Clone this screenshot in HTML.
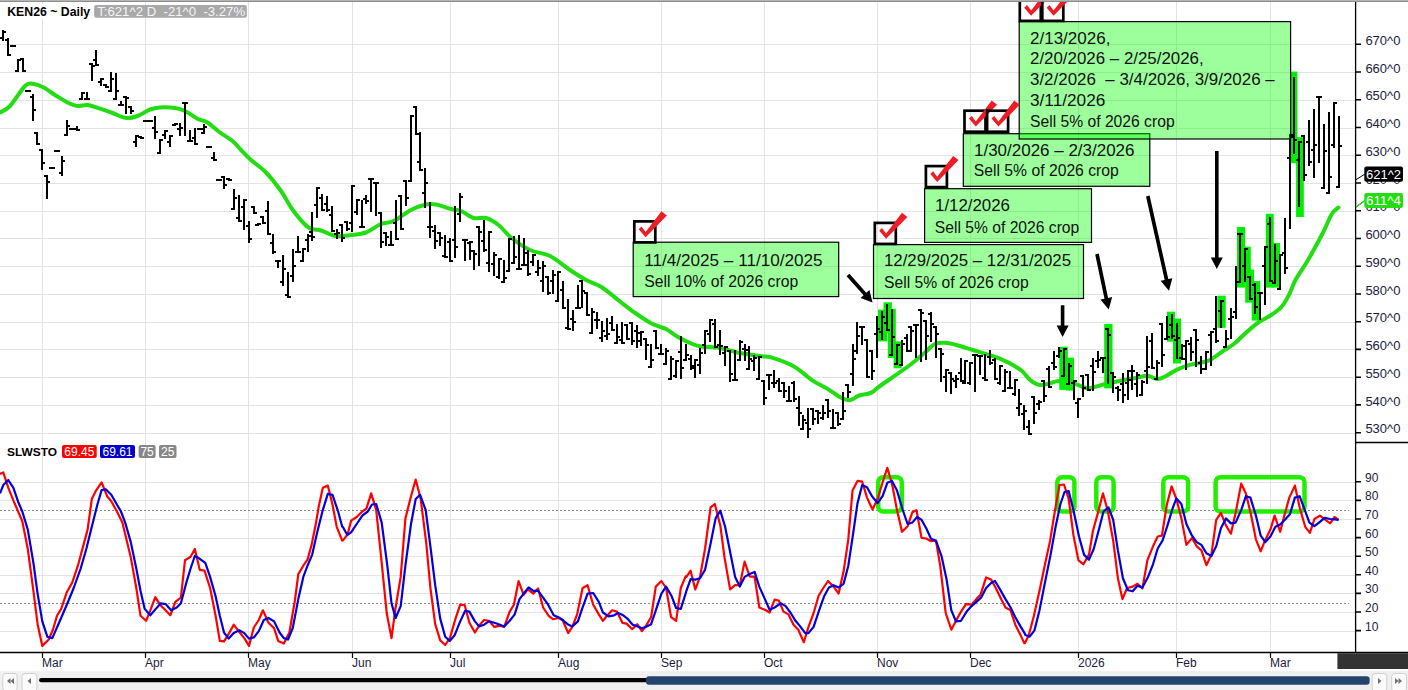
<!DOCTYPE html>
<html><head><meta charset="utf-8"><style>html,body{margin:0;padding:0;background:#fff;width:1408px;height:690px;overflow:hidden}</style></head><body><svg width="1408" height="690" viewBox="0 0 1408 690" style="display:block">
<rect x="0" y="0" width="1408" height="690" fill="#fff"/>
<path d="M0 433.5H1355.5 M0 405.5H1355.5 M0 377.5H1355.5 M0 349.5H1355.5 M0 322.5H1355.5 M0 294.5H1355.5 M0 266.5H1355.5 M0 238.5H1355.5 M0 211.5H1355.5 M0 183.5H1355.5 M0 155.5H1355.5 M0 128.5H1355.5 M0 100.5H1355.5 M0 72.5H1355.5 M0 44.5H1355.5 M0 631.5H1355.5 M0 612.5H1355.5 M0 593.5H1355.5 M0 575.5H1355.5 M0 556.5H1355.5 M0 538.5H1355.5 M0 519.5H1355.5 M0 500.5H1355.5 M0 482.5H1355.5 M42.5 2V652 M145.5 2V652 M248.5 2V652 M352.5 2V652 M450.5 2V652 M558.5 2V652 M661.5 2V652 M764.5 2V652 M877.5 2V652 M970.5 2V652 M1078.5 2V652 M1176.5 2V652 M1270.5 2V652" stroke="#e3e3e3" stroke-width="1" fill="none"/>
<path d="M0 510.5H1349" stroke="#8a8a8a" stroke-width="1" stroke-dasharray="2,2" fill="none"/>
<path d="M0 603.5H1349" stroke="#8a8a8a" stroke-width="1" stroke-dasharray="2,2" fill="none"/>
<path fill="none" stroke="#22dd11" stroke-width="4" stroke-linejoin="round" stroke-linecap="round" d="M0.0 112.5C1.7 111.4 5.8 110.4 10.0 106.0C14.2 101.6 21.2 89.7 25.0 86.0C28.8 82.3 29.4 83.5 32.5 83.7C35.6 84.0 40.0 85.6 43.7 87.5C47.5 89.4 51.0 92.5 55.0 95.0C59.0 97.5 63.8 100.7 67.5 102.5C71.2 104.3 74.2 105.6 77.5 106.0C80.8 106.4 83.8 104.5 87.5 105.0C91.2 105.5 95.8 107.4 100.0 108.7C104.2 110.0 108.2 111.5 112.5 113.0C116.8 114.5 121.8 117.5 126.0 118.0C130.2 118.5 133.5 117.4 137.5 116.0C141.5 114.6 146.2 110.9 150.0 109.5C153.8 108.1 155.8 107.8 160.0 107.5C164.2 107.2 170.8 107.4 175.0 108.0C179.2 108.6 181.2 109.2 185.0 111.0C188.8 112.8 193.8 116.8 197.5 118.7C201.2 120.6 203.8 120.2 207.5 122.5C211.2 124.8 215.8 129.4 220.0 132.5C224.2 135.6 229.0 138.1 232.5 141.0C236.0 143.9 237.9 146.8 241.0 150.0C244.1 153.2 246.8 156.2 251.0 160.0C255.2 163.8 261.0 167.3 266.0 172.5C271.0 177.7 276.4 184.6 281.0 191.0C285.6 197.4 288.9 204.9 293.5 211.0C298.1 217.1 303.9 224.2 308.5 227.5C313.1 230.8 316.4 229.1 321.0 230.5C325.6 231.9 331.0 235.2 336.0 236.0C341.0 236.8 346.0 235.6 351.0 235.0C356.0 234.4 361.0 234.3 366.0 232.5C371.0 230.7 376.4 225.9 381.0 224.0C385.6 222.1 388.5 223.3 393.5 221.0C398.5 218.7 405.6 212.8 411.0 210.0C416.4 207.2 421.8 205.4 426.0 204.5C430.2 203.6 431.8 203.8 436.0 204.5C440.2 205.2 446.8 207.9 451.0 209.0C455.2 210.1 457.2 209.5 461.0 211.0C464.8 212.5 469.3 216.8 473.5 218.0C477.7 219.2 481.8 216.8 486.0 218.0C490.2 219.2 494.3 221.8 498.5 225.0C502.7 228.2 505.8 233.3 511.0 237.5C516.2 241.7 523.5 246.9 530.0 250.0C536.5 253.1 543.3 252.7 550.0 256.0C556.7 259.3 564.0 266.0 570.0 270.0C576.0 274.0 580.8 277.2 586.0 280.0C591.2 282.8 595.7 283.4 601.4 287.0C607.1 290.6 614.4 297.2 620.0 301.5C625.6 305.8 629.9 309.3 635.2 313.0C640.5 316.7 646.9 321.1 652.0 323.8C657.1 326.5 661.7 326.8 666.0 329.0C670.3 331.2 673.4 334.4 678.0 337.0C682.6 339.6 689.5 342.9 693.6 344.5C697.7 346.1 698.8 346.3 702.8 346.8C706.8 347.3 711.7 346.6 717.5 347.5C723.3 348.4 730.4 351.1 737.5 352.5C744.6 353.9 754.0 355.1 760.0 356.0C766.0 356.9 767.9 356.4 773.6 358.1C779.3 359.9 787.5 362.8 794.0 366.5C800.5 370.2 807.2 376.9 812.7 380.6C818.2 384.3 822.4 385.7 827.2 388.6C832.0 391.5 837.8 396.1 841.7 398.0C845.6 399.9 847.5 400.5 850.4 400.1C853.3 399.7 855.6 396.7 859.0 395.5C862.4 394.3 867.2 394.5 870.7 392.9C874.2 391.3 873.5 390.6 880.0 386.0C886.5 381.4 902.5 370.6 910.0 365.0C917.5 359.4 920.8 356.0 925.0 352.5C929.2 349.0 931.2 345.6 935.0 344.0C938.8 342.4 943.3 342.7 947.5 343.0C951.7 343.3 955.8 344.8 960.0 346.0C964.2 347.2 966.1 347.9 972.8 350.0C979.4 352.1 991.9 355.4 999.9 358.7C1007.9 362.0 1015.5 366.3 1020.6 369.9C1025.7 373.5 1027.0 377.7 1030.2 380.2C1033.4 382.7 1036.5 384.5 1039.7 385.0C1042.9 385.5 1046.1 384.1 1049.3 383.4C1052.5 382.7 1055.2 381.1 1058.9 381.0C1062.6 380.9 1066.8 381.4 1071.6 382.6C1076.4 383.8 1082.9 387.7 1087.6 388.2C1092.3 388.7 1096.7 386.3 1100.0 385.5C1103.3 384.7 1103.3 384.4 1107.4 383.5C1111.5 382.6 1119.6 381.0 1124.8 380.0C1130.0 379.0 1134.9 378.1 1138.7 377.4C1142.5 376.7 1144.2 375.4 1147.4 375.7C1150.6 376.0 1154.6 379.0 1157.8 379.0C1161.0 379.0 1163.3 377.3 1166.5 375.7C1169.7 374.1 1173.2 371.4 1177.0 369.6C1180.8 367.9 1185.0 366.4 1189.0 365.2C1193.0 364.0 1197.8 363.5 1201.3 362.6C1204.8 361.7 1206.2 362.0 1210.0 360.0C1213.8 358.0 1219.9 353.1 1224.0 350.4C1228.1 347.6 1230.7 346.5 1234.4 343.5C1238.2 340.5 1242.5 335.7 1246.5 332.2C1250.5 328.7 1254.5 325.2 1258.3 322.5C1262.1 319.8 1265.8 318.5 1269.6 316.0C1273.4 313.5 1277.9 310.7 1281.0 307.4C1284.1 304.1 1285.9 300.7 1288.4 296.0C1290.9 291.3 1292.8 284.8 1296.0 279.0C1299.2 273.2 1302.9 268.7 1307.3 261.2C1311.7 253.7 1318.2 241.9 1322.3 234.0C1326.4 226.1 1329.1 218.4 1331.8 214.0C1334.5 209.6 1337.3 208.6 1338.4 207.5"/>
<rect x="878.0" y="309.6" width="9.1" height="31.8" fill="#00ee00"/>
<rect x="883.5" y="302.3" width="8.4" height="30.7" fill="#00ee00"/>
<rect x="887.8" y="308.8" width="8.0" height="49.3" fill="#00ee00"/>
<rect x="893.6" y="341.4" width="8.0" height="26.9" fill="#00ee00"/>
<rect x="1059.3" y="346.7" width="8.5" height="43.2" fill="#00ee00"/>
<rect x="1066.0" y="357.7" width="8.0" height="32.9" fill="#00ee00"/>
<rect x="1104.2" y="323.9" width="8.3" height="64.5" fill="#00ee00"/>
<rect x="1167.0" y="311.7" width="8.0" height="30.0" fill="#00ee00"/>
<rect x="1173.0" y="318.6" width="8.0" height="44.9" fill="#00ee00"/>
<rect x="1217.4" y="295.7" width="8.3" height="32.1" fill="#00ee00"/>
<rect x="1237.0" y="227.0" width="8.0" height="60.6" fill="#00ee00"/>
<rect x="1243.6" y="246.7" width="7.2" height="36.3" fill="#00ee00"/>
<rect x="1245.2" y="269.7" width="8.8" height="33.0" fill="#00ee00"/>
<rect x="1251.7" y="281.0" width="8.5" height="39.6" fill="#00ee00"/>
<rect x="1265.8" y="213.8" width="7.9" height="73.8" fill="#00ee00"/>
<rect x="1272.4" y="243.0" width="7.6" height="44.6" fill="#00ee00"/>
<rect x="1290.4" y="71.6" width="7.0" height="91.6" fill="#00ee00"/>
<rect x="1296.1" y="137.2" width="7.7" height="79.8" fill="#00ee00"/>
<path d="M2 30h2v11h-2zM0 37h2v2h-2zM4 31h2v2h-2zM7 38h2v18h-2zM5 39h2v2h-2zM9 54h2v2h-2zM12 45h2v2h-2zM10 45h2v2h-2zM14 45h2v2h-2zM17 59h2v13h-2zM15 70h2v2h-2zM19 59h2v2h-2zM22 58h2v14h-2zM20 58h2v2h-2zM24 70h2v2h-2zM27 90h2v2h-2zM25 90h2v2h-2zM29 90h2v2h-2zM32 94h2v27h-2zM30 96h2v2h-2zM34 109h2v2h-2zM36 132h2v13h-2zM34 132h2v2h-2zM38 143h2v2h-2zM41 149h2v21h-2zM39 149h2v2h-2zM43 162h2v2h-2zM46 175h2v24h-2zM44 175h2v2h-2zM48 181h2v2h-2zM51 167h2v2h-2zM49 167h2v2h-2zM53 167h2v2h-2zM56 150h2v2h-2zM54 150h2v2h-2zM58 150h2v2h-2zM61 156h2v20h-2zM59 172h2v2h-2zM63 160h2v2h-2zM66 120h2v16h-2zM64 134h2v2h-2zM68 125h2v2h-2zM71 128h2v2h-2zM69 128h2v2h-2zM73 128h2v2h-2zM76 126h2v5h-2zM74 128h2v2h-2zM78 129h2v2h-2zM81 92h2v8h-2zM79 98h2v2h-2zM83 92h2v2h-2zM86 92h2v8h-2zM84 98h2v2h-2zM88 98h2v2h-2zM91 63h2v18h-2zM89 63h2v2h-2zM93 65h2v2h-2zM95 50h2v16h-2zM93 59h2v2h-2zM97 64h2v2h-2zM100 78h2v8h-2zM98 81h2v2h-2zM102 78h2v2h-2zM105 84h2v4h-2zM103 84h2v2h-2zM107 86h2v2h-2zM110 72h2v20h-2zM108 90h2v2h-2zM112 78h2v2h-2zM115 73h2v27h-2zM113 98h2v2h-2zM117 90h2v2h-2zM120 101h2v5h-2zM118 104h2v2h-2zM122 104h2v2h-2zM125 96h2v18h-2zM123 96h2v2h-2zM127 97h2v2h-2zM130 106h2v8h-2zM128 106h2v2h-2zM132 110h2v2h-2zM135 135h2v12h-2zM133 141h2v2h-2zM137 135h2v2h-2zM140 136h2v3h-2zM138 136h2v2h-2zM142 137h2v2h-2zM145 120h2v2h-2zM143 120h2v2h-2zM147 120h2v2h-2zM149 120h2v2h-2zM147 120h2v2h-2zM151 120h2v2h-2zM154 116h2v23h-2zM152 127h2v2h-2zM156 131h2v2h-2zM159 139h2v15h-2zM157 152h2v2h-2zM161 139h2v2h-2zM164 130h2v9h-2zM162 134h2v2h-2zM166 130h2v2h-2zM169 135h2v12h-2zM167 141h2v2h-2zM171 135h2v2h-2zM174 123h2v3h-2zM172 124h2v2h-2zM176 123h2v2h-2zM179 123h2v13h-2zM177 128h2v2h-2zM181 127h2v2h-2zM184 102h2v34h-2zM182 102h2v2h-2zM186 102h2v2h-2zM189 130h2v12h-2zM187 140h2v2h-2zM191 140h2v2h-2zM194 128h2v17h-2zM192 137h2v2h-2zM196 143h2v2h-2zM199 128h2v2h-2zM197 128h2v2h-2zM201 128h2v2h-2zM203 124h2v10h-2zM201 132h2v2h-2zM205 126h2v2h-2zM208 146h2v2h-2zM206 146h2v2h-2zM210 146h2v2h-2zM213 152h2v9h-2zM211 157h2v2h-2zM215 159h2v2h-2zM218 179h2v2h-2zM216 179h2v2h-2zM220 179h2v2h-2zM223 176h2v13h-2zM221 176h2v2h-2zM225 184h2v2h-2zM228 178h2v3h-2zM226 178h2v2h-2zM230 179h2v2h-2zM233 189h2v21h-2zM231 208h2v2h-2zM235 197h2v2h-2zM238 195h2v27h-2zM236 217h2v2h-2zM240 220h2v2h-2zM243 199h2v31h-2zM241 206h2v2h-2zM245 199h2v2h-2zM248 221h2v22h-2zM246 225h2v2h-2zM250 238h2v2h-2zM253 206h2v8h-2zM251 206h2v2h-2zM255 212h2v2h-2zM257 223h2v3h-2zM255 224h2v2h-2zM259 223h2v2h-2zM262 216h2v8h-2zM260 216h2v2h-2zM264 222h2v2h-2zM267 201h2v34h-2zM265 210h2v2h-2zM269 233h2v2h-2zM272 234h2v20h-2zM270 242h2v2h-2zM274 251h2v2h-2zM277 260h2v8h-2zM275 260h2v2h-2zM279 260h2v2h-2zM282 255h2v31h-2zM280 281h2v2h-2zM284 268h2v2h-2zM287 272h2v26h-2zM285 294h2v2h-2zM289 296h2v2h-2zM292 249h2v33h-2zM290 275h2v2h-2zM294 265h2v2h-2zM297 236h2v17h-2zM295 251h2v2h-2zM299 251h2v2h-2zM302 248h2v14h-2zM300 260h2v2h-2zM304 248h2v2h-2zM307 234h2v18h-2zM305 239h2v2h-2zM309 235h2v2h-2zM311 212h2v29h-2zM309 231h2v2h-2zM313 236h2v2h-2zM316 187h2v31h-2zM314 204h2v2h-2zM318 187h2v2h-2zM321 194h2v17h-2zM319 197h2v2h-2zM323 209h2v2h-2zM326 196h2v16h-2zM324 203h2v2h-2zM328 209h2v2h-2zM331 206h2v26h-2zM329 214h2v2h-2zM333 230h2v2h-2zM336 229h2v10h-2zM334 233h2v2h-2zM338 232h2v2h-2zM341 224h2v18h-2zM339 224h2v2h-2zM343 237h2v2h-2zM346 221h2v10h-2zM344 221h2v2h-2zM348 228h2v2h-2zM351 185h2v47h-2zM349 222h2v2h-2zM353 185h2v2h-2zM356 199h2v16h-2zM354 211h2v2h-2zM358 199h2v2h-2zM361 200h2v28h-2zM359 226h2v2h-2zM363 226h2v2h-2zM365 195h2v9h-2zM363 198h2v2h-2zM367 200h2v2h-2zM370 178h2v34h-2zM368 178h2v2h-2zM372 178h2v2h-2zM375 182h2v34h-2zM373 182h2v2h-2zM377 182h2v2h-2zM380 212h2v36h-2zM378 212h2v2h-2zM382 241h2v2h-2zM385 232h2v14h-2zM383 232h2v2h-2zM387 236h2v2h-2zM390 231h2v15h-2zM388 244h2v2h-2zM392 244h2v2h-2zM395 200h2v40h-2zM393 222h2v2h-2zM397 238h2v2h-2zM400 195h2v35h-2zM398 195h2v2h-2zM402 228h2v2h-2zM405 180h2v26h-2zM403 180h2v2h-2zM407 197h2v2h-2zM410 115h2v67h-2zM408 180h2v2h-2zM412 115h2v2h-2zM415 106h2v29h-2zM413 106h2v2h-2zM417 133h2v2h-2zM419 132h2v39h-2zM417 161h2v2h-2zM421 169h2v2h-2zM424 168h2v40h-2zM422 192h2v2h-2zM426 182h2v2h-2zM429 202h2v36h-2zM427 226h2v2h-2zM431 226h2v2h-2zM434 225h2v24h-2zM432 230h2v2h-2zM436 240h2v2h-2zM439 232h2v14h-2zM437 232h2v2h-2zM441 237h2v2h-2zM444 235h2v23h-2zM442 255h2v2h-2zM446 256h2v2h-2zM449 238h2v24h-2zM447 241h2v2h-2zM451 260h2v2h-2zM454 206h2v52h-2zM452 239h2v2h-2zM456 246h2v2h-2zM459 193h2v29h-2zM457 213h2v2h-2zM461 196h2v2h-2zM464 239h2v22h-2zM462 239h2v2h-2zM466 239h2v2h-2zM469 241h2v19h-2zM467 242h2v2h-2zM471 241h2v2h-2zM473 250h2v20h-2zM471 250h2v2h-2zM475 253h2v2h-2zM478 226h2v40h-2zM476 226h2v2h-2zM480 231h2v2h-2zM483 220h2v32h-2zM481 240h2v2h-2zM485 249h2v2h-2zM488 231h2v41h-2zM486 262h2v2h-2zM490 231h2v2h-2zM493 252h2v24h-2zM491 263h2v2h-2zM495 254h2v2h-2zM498 258h2v21h-2zM496 276h2v2h-2zM500 258h2v2h-2zM503 260h2v23h-2zM501 281h2v2h-2zM505 277h2v2h-2zM508 238h2v34h-2zM506 270h2v2h-2zM510 238h2v2h-2zM513 236h2v28h-2zM511 262h2v2h-2zM515 256h2v2h-2zM518 235h2v35h-2zM516 268h2v2h-2zM520 268h2v2h-2zM523 238h2v28h-2zM521 264h2v2h-2zM525 264h2v2h-2zM527 250h2v26h-2zM525 252h2v2h-2zM529 273h2v2h-2zM532 254h2v12h-2zM530 261h2v2h-2zM534 254h2v2h-2zM537 260h2v16h-2zM535 271h2v2h-2zM539 267h2v2h-2zM542 261h2v31h-2zM540 280h2v2h-2zM544 265h2v2h-2zM547 276h2v19h-2zM545 276h2v2h-2zM549 292h2v2h-2zM552 270h2v24h-2zM550 280h2v2h-2zM554 274h2v2h-2zM557 271h2v31h-2zM555 300h2v2h-2zM559 271h2v2h-2zM562 281h2v28h-2zM560 289h2v2h-2zM564 307h2v2h-2zM567 299h2v31h-2zM565 327h2v2h-2zM569 328h2v2h-2zM572 310h2v21h-2zM570 318h2v2h-2zM574 321h2v2h-2zM577 285h2v24h-2zM575 307h2v2h-2zM579 307h2v2h-2zM581 280h2v28h-2zM579 280h2v2h-2zM583 290h2v2h-2zM586 292h2v24h-2zM584 292h2v2h-2zM588 314h2v2h-2zM591 308h2v26h-2zM589 332h2v2h-2zM593 311h2v2h-2zM596 312h2v17h-2zM594 319h2v2h-2zM598 319h2v2h-2zM601 321h2v21h-2zM599 337h2v2h-2zM603 330h2v2h-2zM606 318h2v22h-2zM604 335h2v2h-2zM608 333h2v2h-2zM611 316h2v15h-2zM609 322h2v2h-2zM613 329h2v2h-2zM616 324h2v20h-2zM614 342h2v2h-2zM618 336h2v2h-2zM621 322h2v22h-2zM619 339h2v2h-2zM623 342h2v2h-2zM626 324h2v16h-2zM624 324h2v2h-2zM628 338h2v2h-2zM631 322h2v23h-2zM629 322h2v2h-2zM633 340h2v2h-2zM636 325h2v23h-2zM634 330h2v2h-2zM638 332h2v2h-2zM640 331h2v15h-2zM638 340h2v2h-2zM642 331h2v2h-2zM645 338h2v22h-2zM643 338h2v2h-2zM647 344h2v2h-2zM650 344h2v24h-2zM648 366h2v2h-2zM652 359h2v2h-2zM655 330h2v19h-2zM653 330h2v2h-2zM657 347h2v2h-2zM660 344h2v11h-2zM658 353h2v2h-2zM662 353h2v2h-2zM665 348h2v17h-2zM663 363h2v2h-2zM667 350h2v2h-2zM670 356h2v24h-2zM668 378h2v2h-2zM672 358h2v2h-2zM675 360h2v18h-2zM673 375h2v2h-2zM677 360h2v2h-2zM680 336h2v43h-2zM678 351h2v2h-2zM682 367h2v2h-2zM685 344h2v17h-2zM683 359h2v2h-2zM687 354h2v2h-2zM690 355h2v15h-2zM688 358h2v2h-2zM692 367h2v2h-2zM694 359h2v19h-2zM692 365h2v2h-2zM696 359h2v2h-2zM699 348h2v26h-2zM697 364h2v2h-2zM701 352h2v2h-2zM704 330h2v24h-2zM702 344h2v2h-2zM706 330h2v2h-2zM709 319h2v23h-2zM707 333h2v2h-2zM711 319h2v2h-2zM714 319h2v29h-2zM712 323h2v2h-2zM716 346h2v2h-2zM719 330h2v25h-2zM717 344h2v2h-2zM721 345h2v2h-2zM724 346h2v20h-2zM722 352h2v2h-2zM726 346h2v2h-2zM729 350h2v32h-2zM727 350h2v2h-2zM731 373h2v2h-2zM734 350h2v31h-2zM732 379h2v2h-2zM736 379h2v2h-2zM739 340h2v21h-2zM737 359h2v2h-2zM741 341h2v2h-2zM744 344h2v17h-2zM742 348h2v2h-2zM746 349h2v2h-2zM748 346h2v24h-2zM746 368h2v2h-2zM750 358h2v2h-2zM753 355h2v16h-2zM751 360h2v2h-2zM755 357h2v2h-2zM758 356h2v24h-2zM756 378h2v2h-2zM760 356h2v2h-2zM763 380h2v25h-2zM761 380h2v2h-2zM765 397h2v2h-2zM768 374h2v16h-2zM766 374h2v2h-2zM770 374h2v2h-2zM773 370h2v18h-2zM771 382h2v2h-2zM775 382h2v2h-2zM778 378h2v14h-2zM776 380h2v2h-2zM780 390h2v2h-2zM783 382h2v16h-2zM781 382h2v2h-2zM785 390h2v2h-2zM788 386h2v16h-2zM786 400h2v2h-2zM790 400h2v2h-2zM793 381h2v21h-2zM791 382h2v2h-2zM795 398h2v2h-2zM798 396h2v30h-2zM796 407h2v2h-2zM800 412h2v2h-2zM802 415h2v15h-2zM800 428h2v2h-2zM804 419h2v2h-2zM807 408h2v30h-2zM805 422h2v2h-2zM809 428h2v2h-2zM812 408h2v17h-2zM810 408h2v2h-2zM814 418h2v2h-2zM817 410h2v14h-2zM815 410h2v2h-2zM819 412h2v2h-2zM822 405h2v15h-2zM820 417h2v2h-2zM824 412h2v2h-2zM827 399h2v19h-2zM825 399h2v2h-2zM829 410h2v2h-2zM832 409h2v20h-2zM830 427h2v2h-2zM834 427h2v2h-2zM837 412h2v14h-2zM835 412h2v2h-2zM839 423h2v2h-2zM842 392h2v28h-2zM840 418h2v2h-2zM844 410h2v2h-2zM847 384h2v14h-2zM845 384h2v2h-2zM849 391h2v2h-2zM852 344h2v42h-2zM850 373h2v2h-2zM854 358h2v2h-2zM856 322h2v32h-2zM854 350h2v2h-2zM858 335h2v2h-2zM861 326h2v19h-2zM859 326h2v2h-2zM863 326h2v2h-2zM866 339h2v39h-2zM864 339h2v2h-2zM868 376h2v2h-2zM871 350h2v30h-2zM869 350h2v2h-2zM873 370h2v2h-2zM876 316h2v42h-2zM874 333h2v2h-2zM878 328h2v2h-2zM881 311h2v29h-2zM879 331h2v2h-2zM883 316h2v2h-2zM886 304h2v27h-2zM884 322h2v2h-2zM888 329h2v2h-2zM891 309h2v47h-2zM889 354h2v2h-2zM893 336h2v2h-2zM896 344h2v21h-2zM894 363h2v2h-2zM898 344h2v2h-2zM901 340h2v26h-2zM899 364h2v2h-2zM903 343h2v2h-2zM906 334h2v18h-2zM904 337h2v2h-2zM908 350h2v2h-2zM910 326h2v26h-2zM908 326h2v2h-2zM912 330h2v2h-2zM915 324h2v34h-2zM913 324h2v2h-2zM917 324h2v2h-2zM920 309h2v53h-2zM918 309h2v2h-2zM922 312h2v2h-2zM925 320h2v40h-2zM923 320h2v2h-2zM927 335h2v2h-2zM930 312h2v30h-2zM928 313h2v2h-2zM932 323h2v2h-2zM935 326h2v32h-2zM933 326h2v2h-2zM937 333h2v2h-2zM940 348h2v34h-2zM938 348h2v2h-2zM942 353h2v2h-2zM945 369h2v23h-2zM943 376h2v2h-2zM947 369h2v2h-2zM950 372h2v22h-2zM948 372h2v2h-2zM952 378h2v2h-2zM955 375h2v13h-2zM953 380h2v2h-2zM957 378h2v2h-2zM960 358h2v24h-2zM958 372h2v2h-2zM962 380h2v2h-2zM964 360h2v24h-2zM962 382h2v2h-2zM966 360h2v2h-2zM969 362h2v23h-2zM967 382h2v2h-2zM971 362h2v2h-2zM974 354h2v38h-2zM972 354h2v2h-2zM976 354h2v2h-2zM979 355h2v20h-2zM977 355h2v2h-2zM981 355h2v2h-2zM984 354h2v27h-2zM982 377h2v2h-2zM986 379h2v2h-2zM989 350h2v15h-2zM987 356h2v2h-2zM991 362h2v2h-2zM994 358h2v22h-2zM992 359h2v2h-2zM996 378h2v2h-2zM999 365h2v20h-2zM997 382h2v2h-2zM1001 365h2v2h-2zM1004 369h2v23h-2zM1002 390h2v2h-2zM1006 371h2v2h-2zM1009 371h2v18h-2zM1007 387h2v2h-2zM1011 387h2v2h-2zM1014 379h2v17h-2zM1012 393h2v2h-2zM1016 379h2v2h-2zM1018 389h2v27h-2zM1016 407h2v2h-2zM1020 403h2v2h-2zM1023 405h2v25h-2zM1021 413h2v2h-2zM1025 410h2v2h-2zM1028 420h2v15h-2zM1026 426h2v2h-2zM1030 433h2v2h-2zM1033 396h2v28h-2zM1031 396h2v2h-2zM1035 412h2v2h-2zM1038 400h2v10h-2zM1036 403h2v2h-2zM1040 401h2v2h-2zM1043 380h2v22h-2zM1041 380h2v2h-2zM1045 395h2v2h-2zM1048 366h2v22h-2zM1046 368h2v2h-2zM1050 386h2v2h-2zM1053 351h2v19h-2zM1051 362h2v2h-2zM1055 366h2v2h-2zM1058 347h2v11h-2zM1056 355h2v2h-2zM1060 350h2v2h-2zM1063 348h2v29h-2zM1061 375h2v2h-2zM1065 348h2v2h-2zM1068 363h2v22h-2zM1066 383h2v2h-2zM1070 365h2v2h-2zM1073 380h2v20h-2zM1071 382h2v2h-2zM1075 380h2v2h-2zM1077 398h2v20h-2zM1075 402h2v2h-2zM1079 398h2v2h-2zM1082 375h2v22h-2zM1080 375h2v2h-2zM1084 387h2v2h-2zM1087 374h2v17h-2zM1085 374h2v2h-2zM1089 389h2v2h-2zM1092 358h2v33h-2zM1090 365h2v2h-2zM1094 371h2v2h-2zM1097 351h2v17h-2zM1095 360h2v2h-2zM1099 359h2v2h-2zM1102 357h2v16h-2zM1100 357h2v2h-2zM1104 357h2v2h-2zM1107 328h2v56h-2zM1105 328h2v2h-2zM1109 334h2v2h-2zM1112 372h2v21h-2zM1110 372h2v2h-2zM1114 376h2v2h-2zM1117 386h2v15h-2zM1115 387h2v2h-2zM1119 389h2v2h-2zM1122 373h2v30h-2zM1120 383h2v2h-2zM1124 394h2v2h-2zM1127 370h2v30h-2zM1125 382h2v2h-2zM1129 370h2v2h-2zM1131 365h2v25h-2zM1129 379h2v2h-2zM1133 370h2v2h-2zM1136 372h2v25h-2zM1134 383h2v2h-2zM1138 374h2v2h-2zM1141 380h2v16h-2zM1139 394h2v2h-2zM1143 381h2v2h-2zM1146 336h2v48h-2zM1144 370h2v2h-2zM1148 366h2v2h-2zM1151 333h2v36h-2zM1149 340h2v2h-2zM1153 367h2v2h-2zM1156 360h2v20h-2zM1154 378h2v2h-2zM1158 362h2v2h-2zM1161 323h2v44h-2zM1159 323h2v2h-2zM1163 354h2v2h-2zM1166 316h2v24h-2zM1164 338h2v2h-2zM1168 336h2v2h-2zM1171 314h2v25h-2zM1169 324h2v2h-2zM1173 335h2v2h-2zM1176 323h2v36h-2zM1174 339h2v2h-2zM1178 337h2v2h-2zM1181 344h2v16h-2zM1179 357h2v2h-2zM1183 358h2v2h-2zM1185 340h2v30h-2zM1183 345h2v2h-2zM1187 340h2v2h-2zM1190 337h2v24h-2zM1188 343h2v2h-2zM1192 351h2v2h-2zM1195 329h2v38h-2zM1193 329h2v2h-2zM1197 339h2v2h-2zM1200 356h2v18h-2zM1198 362h2v2h-2zM1202 368h2v2h-2zM1205 351h2v19h-2zM1203 368h2v2h-2zM1207 351h2v2h-2zM1210 331h2v35h-2zM1208 334h2v2h-2zM1212 331h2v2h-2zM1215 296h2v47h-2zM1213 328h2v2h-2zM1217 340h2v2h-2zM1220 300h2v28h-2zM1218 310h2v2h-2zM1222 300h2v2h-2zM1225 330h2v18h-2zM1223 346h2v2h-2zM1227 338h2v2h-2zM1230 308h2v31h-2zM1228 318h2v2h-2zM1232 316h2v2h-2zM1235 266h2v53h-2zM1233 311h2v2h-2zM1237 281h2v2h-2zM1239 233h2v50h-2zM1237 233h2v2h-2zM1241 233h2v2h-2zM1244 248h2v34h-2zM1242 265h2v2h-2zM1246 248h2v2h-2zM1249 276h2v24h-2zM1247 276h2v2h-2zM1251 298h2v2h-2zM1254 283h2v31h-2zM1252 284h2v2h-2zM1256 306h2v2h-2zM1259 292h2v28h-2zM1257 292h2v2h-2zM1261 292h2v2h-2zM1264 246h2v59h-2zM1262 265h2v2h-2zM1266 246h2v2h-2zM1269 217h2v65h-2zM1267 223h2v2h-2zM1271 280h2v2h-2zM1274 244h2v40h-2zM1272 282h2v2h-2zM1276 260h2v2h-2zM1279 254h2v36h-2zM1277 288h2v2h-2zM1281 254h2v2h-2zM1284 218h2v56h-2zM1282 252h2v2h-2zM1286 267h2v2h-2zM1289 134h2v95h-2zM1287 157h2v2h-2zM1291 134h2v2h-2zM1293 77h2v77h-2zM1291 136h2v2h-2zM1295 139h2v2h-2zM1298 141h2v66h-2zM1296 159h2v2h-2zM1300 141h2v2h-2zM1303 135h2v46h-2zM1301 135h2v2h-2zM1305 174h2v2h-2zM1308 120h2v46h-2zM1306 141h2v2h-2zM1310 161h2v2h-2zM1313 109h2v69h-2zM1311 149h2v2h-2zM1315 144h2v2h-2zM1318 96h2v67h-2zM1316 96h2v2h-2zM1320 96h2v2h-2zM1323 124h2v65h-2zM1321 187h2v2h-2zM1325 150h2v2h-2zM1328 112h2v82h-2zM1326 192h2v2h-2zM1330 176h2v2h-2zM1333 102h2v46h-2zM1331 144h2v2h-2zM1335 102h2v2h-2zM1338 116h2v72h-2zM1336 186h2v2h-2zM1340 145h2v2h-2z" fill="#000" shape-rendering="crispEdges"/>
<rect x="878.2" y="477.2" width="23.6" height="34.3" rx="5" ry="5" fill="none" stroke="#22ee00" stroke-width="4.5"/>
<rect x="1057.3" y="477.2" width="17.1" height="34.3" rx="5" ry="5" fill="none" stroke="#22ee00" stroke-width="4.5"/>
<rect x="1096.3" y="477.2" width="17.3" height="34.3" rx="5" ry="5" fill="none" stroke="#22ee00" stroke-width="4.5"/>
<rect x="1163.3" y="477.2" width="24.8" height="34.3" rx="5" ry="5" fill="none" stroke="#22ee00" stroke-width="4.5"/>
<rect x="1215.6" y="477.2" width="88.9" height="34.3" rx="5" ry="5" fill="none" stroke="#22ee00" stroke-width="4.5"/>
<polyline fill="none" stroke="#ff0000" stroke-width="2.2" stroke-linejoin="round" points="0.0,473.9 3.3,472.5 8.3,487.8 13.9,501.7 22.3,521.2 27.8,549.0 33.4,590.8 37.6,624.2 42.3,645.9 48.7,639.5 52.9,629.7 57.0,615.8 61.2,608.9 66.8,592.2 72.3,582.4 77.9,565.7 83.5,544.9 87.6,529.6 91.8,499.0 96.0,490.6 101.6,482.3 107.1,496.2 111.3,501.2 116.9,511.5 122.4,522.6 130.8,557.4 136.3,588.0 140.5,615.8 146.1,620.8 150.3,610.3 155.3,597.2 160.0,604.7 165.6,610.3 170.3,615.3 175.3,601.9 180.9,597.7 185.0,560.2 190.6,556.8 194.8,549.0 199.8,569.9 204.5,570.7 210.1,588.0 215.6,615.8 219.8,640.9 224.0,641.4 228.7,633.9 233.7,624.7 239.3,632.0 244.3,638.1 249.0,645.9 253.8,627.5 258.8,620.0 262.9,610.3 268.5,622.8 274.1,628.3 278.2,640.9 283.8,643.6 289.4,632.5 294.9,600.5 298.3,574.1 303.3,565.7 307.5,559.6 311.6,544.9 315.8,524.0 318.6,507.3 322.8,487.8 327.8,485.6 332.5,504.5 336.7,526.8 342.2,540.7 342.8,540.7 347.0,535.1 347.8,533.7 351.1,520.7 356.7,517.0 362.3,511.5 366.4,508.7 371.2,493.4 376.2,510.1 381.7,562.9 386.7,613.0 391.5,638.1 395.6,607.5 400.7,576.9 405.4,518.4 411.0,496.2 415.7,479.5 420.7,499.0 426.3,543.5 430.4,588.0 435.2,624.2 440.2,640.3 445.2,645.0 449.9,638.1 455.5,618.6 460.2,604.7 464.7,605.2 469.4,622.8 474.9,632.5 479.1,625.6 484.1,620.0 488.9,620.8 494.4,626.9 500.0,625.6 504.2,626.9 509.7,611.6 513.9,604.7 518.6,581.0 523.6,594.9 527.8,589.4 533.4,593.6 538.1,588.5 543.1,607.5 548.7,615.8 552.9,619.2 558.4,618.0 562.6,620.0 568.2,633.1 572.3,626.9 577.1,614.4 582.6,588.0 587.6,585.2 593.2,604.7 598.8,614.4 602.9,620.8 607.1,615.8 612.1,610.3 616.9,611.6 622.4,622.8 626.6,623.6 632.2,629.2 637.2,624.2 641.9,631.1 646.1,625.6 651.1,617.2 655.8,586.6 661.4,581.0 666.1,588.0 671.1,617.2 676.1,620.8 680.8,588.0 685.6,576.3 686.4,576.9 690.6,570.7 695.3,589.4 700.0,576.9 705.0,549.0 710.6,507.3 714.8,504.0 720.3,525.4 724.5,557.4 730.1,589.4 735.1,585.2 739.8,585.2 744.6,561.6 749.6,576.3 754.6,576.9 759.3,607.5 764.9,609.7 769.6,612.5 774.6,599.7 778.8,600.5 783.5,611.6 788.5,614.4 793.5,624.7 798.3,629.7 803.8,642.2 808.5,626.9 813.6,613.0 818.6,595.8 823.3,588.0 828.0,581.0 833.6,586.6 838.6,593.6 843.6,571.3 848.3,539.3 852.5,490.6 857.5,480.9 862.2,481.7 867.0,497.6 872.5,509.5 877.6,499.0 882.6,482.3 887.3,467.8 892.0,483.7 897.0,510.1 902.0,531.8 907.6,526.2 912.3,512.3 916.5,510.1 921.5,537.9 926.2,538.5 931.0,541.2 936.0,540.7 940.2,565.7 945.7,613.0 951.3,629.7 956.0,620.8 961.0,611.6 966.0,604.1 971.6,604.7 976.3,599.1 980.5,594.9 986.1,577.4 991.1,579.6 995.8,588.0 1000.5,597.7 1005.5,607.5 1010.6,610.3 1015.3,624.7 1020.0,633.9 1024.2,643.1 1025.0,643.1 1028.9,634.7 1033.9,615.8 1039.5,590.8 1045.0,564.3 1050.1,540.7 1054.8,511.5 1059.5,485.0 1064.0,484.5 1068.7,499.0 1073.4,535.1 1078.4,560.2 1083.4,564.3 1089.0,554.6 1092.9,531.0 1097.9,512.9 1102.9,493.4 1107.6,510.1 1113.2,540.7 1117.9,578.3 1122.4,599.1 1127.1,588.0 1132.7,586.6 1137.4,583.8 1142.4,588.5 1147.4,560.2 1153.0,546.3 1157.7,536.5 1161.9,535.7 1166.9,504.5 1171.6,486.4 1176.4,499.0 1181.4,518.4 1186.4,544.9 1192.0,537.9 1196.7,546.3 1201.4,550.4 1206.4,565.2 1211.4,554.6 1216.2,519.8 1220.9,512.9 1225.9,525.4 1230.9,533.7 1235.6,512.9 1241.2,483.7 1245.9,493.4 1250.9,514.3 1255.9,539.3 1260.7,551.3 1264.9,540.7 1270.4,529.6 1274.6,515.6 1280.2,531.8 1284.3,515.6 1289.3,497.6 1294.9,485.6 1299.6,507.3 1305.2,526.8 1309.9,532.9 1314.4,519.0 1319.9,515.6 1325.5,519.8 1330.2,523.4 1334.4,517.0 1338.6,519.8"/>
<polyline fill="none" stroke="#0000dd" stroke-width="2.2" stroke-linejoin="round" points="0.0,493.4 3.3,485.0 8.3,480.0 13.4,487.8 18.1,501.7 22.3,511.5 27.8,529.6 33.4,562.9 37.6,593.6 42.3,621.4 47.3,636.7 52.3,638.1 58.4,624.2 66.8,604.7 73.7,588.0 80.7,568.5 86.3,549.0 91.8,526.8 97.4,504.5 101.6,490.1 105.7,489.2 111.3,494.8 116.9,504.5 121.0,511.5 125.2,522.6 130.8,542.1 136.3,568.5 140.5,590.8 144.7,608.9 150.3,615.3 155.8,608.9 160.8,603.3 165.6,604.1 171.1,610.3 176.7,607.5 180.9,603.3 186.4,582.4 190.6,568.5 194.8,556.0 199.8,558.8 205.3,562.9 210.1,576.9 215.6,596.3 219.8,615.8 224.0,632.5 228.7,638.6 233.7,633.1 239.3,630.3 244.3,633.1 249.0,638.6 253.8,637.5 258.8,631.1 263.8,620.0 268.5,618.0 274.1,621.4 279.6,632.5 283.8,638.1 288.0,639.5 292.7,628.3 298.3,599.1 303.3,576.9 307.5,565.7 312.2,554.6 317.2,532.3 322.8,510.1 327.8,493.9 332.5,494.8 338.1,511.5 342.2,526.8 342.8,526.8 347.0,534.6 347.8,534.6 351.1,532.3 356.7,524.0 362.3,515.6 367.8,511.5 372.0,504.5 376.2,504.0 381.7,522.6 387.3,565.7 391.5,603.3 395.6,618.0 400.7,606.1 405.4,565.7 411.0,524.0 415.7,499.0 420.1,494.8 425.7,510.1 430.4,546.3 435.2,585.2 440.2,618.6 445.2,636.7 449.9,640.9 454.6,635.3 460.2,621.4 465.2,610.8 469.4,611.6 474.9,621.4 479.1,626.4 484.1,624.7 488.9,621.4 494.4,622.8 500.0,624.7 504.2,626.4 509.7,620.8 514.7,614.4 519.5,599.1 524.2,593.0 528.6,587.4 533.4,590.8 538.1,590.8 543.1,597.7 548.1,604.7 553.7,615.3 558.4,617.2 562.6,620.0 567.6,624.2 572.3,626.4 577.9,621.4 582.1,608.9 587.6,593.6 593.2,593.0 598.8,601.9 602.9,612.5 608.5,616.4 614.1,615.3 618.2,613.0 623.2,615.3 628.0,619.2 632.7,624.7 637.7,626.4 641.9,628.3 646.1,626.9 651.1,624.2 655.8,610.3 661.4,593.6 666.1,586.6 671.7,596.3 676.1,608.0 680.8,608.9 685.6,593.6 686.4,590.8 690.6,579.1 695.3,579.6 700.0,578.3 705.0,569.9 710.6,543.5 715.6,518.4 720.3,510.6 725.1,526.8 730.1,551.8 735.1,576.9 739.8,586.6 744.6,576.9 749.6,574.1 754.6,571.9 759.3,586.6 764.9,599.1 769.6,609.7 774.6,607.5 780.7,603.3 785.7,606.1 790.7,613.0 795.5,620.8 800.2,626.4 805.2,633.1 808.5,633.1 813.6,626.9 819.1,610.3 824.1,596.3 828.9,587.4 833.6,585.2 838.6,587.4 843.6,583.8 848.3,565.7 852.5,537.9 857.5,503.1 862.2,485.0 867.0,487.3 872.0,496.2 877.6,503.1 882.6,496.2 887.3,482.8 892.0,480.9 897.0,490.6 902.6,509.5 907.6,524.0 912.3,522.6 917.1,517.0 921.5,519.8 926.2,528.2 931.0,538.7 936.0,540.7 941.5,556.0 946.6,579.6 951.3,610.3 956.0,621.4 961.0,620.8 966.6,611.6 971.6,606.1 976.3,601.9 981.1,597.7 986.1,588.0 991.1,583.0 995.0,581.0 1000.0,589.4 1005.5,599.1 1010.6,607.5 1015.3,617.2 1020.8,626.9 1025.0,633.9 1025.0,634.7 1029.7,636.7 1034.5,630.3 1039.5,610.3 1045.0,582.4 1050.6,554.6 1055.6,526.8 1060.3,504.5 1064.5,492.0 1068.7,491.2 1073.4,510.1 1079.0,536.5 1084.0,554.6 1089.0,559.6 1093.7,549.0 1098.5,531.0 1103.5,511.5 1108.5,507.3 1113.2,519.8 1117.9,550.4 1122.9,578.3 1128.0,590.2 1132.7,591.3 1137.4,585.8 1142.4,587.4 1148.0,576.9 1153.0,564.3 1157.7,548.5 1162.5,540.7 1167.5,525.4 1172.5,508.7 1176.4,498.4 1181.4,504.0 1186.4,524.0 1192.0,535.7 1196.7,542.1 1201.4,544.9 1206.4,553.2 1211.4,556.0 1216.2,546.3 1220.9,528.2 1225.9,518.4 1230.9,523.4 1235.6,522.6 1241.2,510.1 1245.9,496.2 1250.4,497.6 1255.9,515.6 1260.7,535.7 1265.4,542.1 1270.4,536.5 1275.4,526.8 1280.2,524.6 1284.9,519.8 1289.9,514.3 1294.9,497.6 1299.6,496.2 1303.8,507.3 1309.4,522.6 1314.4,526.2 1319.9,521.8 1324.7,517.9 1330.2,519.0 1334.4,519.3 1338.6,519.8"/>
<rect x="633.2" y="242.2" width="205.5" height="54.4" fill="rgba(0,255,0,0.39)" stroke="#000" stroke-width="1.2"/>
<text x="644.2" y="265.8" font-family="Liberation Sans, sans-serif" font-size="16" fill="#111" textLength="178.4" lengthAdjust="spacingAndGlyphs" style="white-space:pre">11/4/2025 – 11/10/2025</text>
<text x="644.2" y="286.5" font-family="Liberation Sans, sans-serif" font-size="16" fill="#111" textLength="154" lengthAdjust="spacingAndGlyphs" style="white-space:pre">Sell 10% of 2026 crop</text>
<rect x="873.5" y="244.6" width="210.0" height="53.9" fill="rgba(0,255,0,0.39)" stroke="#000" stroke-width="1.2"/>
<text x="884" y="266.2" font-family="Liberation Sans, sans-serif" font-size="16" fill="#111" textLength="187" lengthAdjust="spacingAndGlyphs" style="white-space:pre">12/29/2025 – 12/31/2025</text>
<text x="884" y="287.5" font-family="Liberation Sans, sans-serif" font-size="16" fill="#111" textLength="144.6" lengthAdjust="spacingAndGlyphs" style="white-space:pre">Sell 5% of 2026 crop</text>
<rect x="924.6" y="188.7" width="166.9" height="53.7" fill="rgba(0,255,0,0.39)" stroke="#000" stroke-width="1.2"/>
<text x="935" y="211.2" font-family="Liberation Sans, sans-serif" font-size="16" fill="#111" textLength="75" lengthAdjust="spacingAndGlyphs" style="white-space:pre">1/12/2026</text>
<text x="934.8" y="232.5" font-family="Liberation Sans, sans-serif" font-size="16" fill="#111" textLength="144.5" lengthAdjust="spacingAndGlyphs" style="white-space:pre">Sell 5% of 2026 crop</text>
<rect x="963.3" y="133.7" width="186.5" height="52.6" fill="rgba(0,255,0,0.39)" stroke="#000" stroke-width="1.2"/>
<text x="974" y="155.7" font-family="Liberation Sans, sans-serif" font-size="16" fill="#111" textLength="160.5" lengthAdjust="spacingAndGlyphs" style="white-space:pre">1/30/2026 – 2/3/2026</text>
<text x="973.8" y="176.0" font-family="Liberation Sans, sans-serif" font-size="16" fill="#111" textLength="145" lengthAdjust="spacingAndGlyphs" style="white-space:pre">Sell 5% of 2026 crop</text>
<rect x="1019.2" y="21.6" width="271.4" height="117.4" fill="rgba(0,255,0,0.39)" stroke="#000" stroke-width="1.2"/>
<text x="1030" y="43.6" font-family="Liberation Sans, sans-serif" font-size="16" fill="#111" textLength="80.4" lengthAdjust="spacingAndGlyphs" style="white-space:pre">2/13/2026,</text>
<text x="1030" y="64.4" font-family="Liberation Sans, sans-serif" font-size="16" fill="#111" textLength="173.7" lengthAdjust="spacingAndGlyphs" style="white-space:pre">2/20/2026 – 2/25/2026,</text>
<text x="1030" y="85.2" font-family="Liberation Sans, sans-serif" font-size="16" fill="#111" textLength="244.7" lengthAdjust="spacingAndGlyphs" style="white-space:pre">3/2/2026  – 3/4/2026, 3/9/2026 –</text>
<text x="1030" y="105.7" font-family="Liberation Sans, sans-serif" font-size="16" fill="#111" textLength="75.3" lengthAdjust="spacingAndGlyphs" style="white-space:pre">3/11/2026</text>
<text x="1030" y="127.0" font-family="Liberation Sans, sans-serif" font-size="16" fill="#111" textLength="144.6" lengthAdjust="spacingAndGlyphs" style="white-space:pre">Sell 5% of 2026 crop</text>
<rect x="634.3" y="221.4" width="21" height="21" fill="none" stroke="#000" stroke-width="2.7"/>
<polygon points="638.7,229.3 641.5,226.6 645.6,232.1 661.5,211.2 666.9,215.4 645.6,237.3" fill="#ee1c24"/>
<rect x="874.8" y="222.9" width="21" height="21" fill="none" stroke="#000" stroke-width="2.7"/>
<polygon points="879.2,230.8 882.0,228.1 886.1,233.6 902.0,212.7 907.4,216.9 886.1,238.8" fill="#ee1c24"/>
<rect x="925.9" y="166.1" width="21" height="21" fill="none" stroke="#000" stroke-width="2.7"/>
<polygon points="930.3,174.0 933.1,171.3 937.2,176.8 953.1,155.9 958.5,160.1 937.2,182.0" fill="#ee1c24"/>
<rect x="964.5" y="110.7" width="21" height="21" fill="none" stroke="#000" stroke-width="2.7"/>
<polygon points="968.9,118.6 971.7,115.9 975.8,121.4 991.7,100.5 997.1,104.7 975.8,126.6" fill="#ee1c24"/>
<rect x="987.1" y="110.7" width="21" height="21" fill="none" stroke="#000" stroke-width="2.7"/>
<polygon points="991.5,118.6 994.3,115.9 998.4,121.4 1014.3,100.5 1019.7,104.7 998.4,126.6" fill="#ee1c24"/>
<rect x="1019.8" y="-0.1" width="21" height="21" fill="none" stroke="#000" stroke-width="2.7"/>
<polygon points="1024.2,7.8 1027.0,5.1 1031.1,10.6 1047.0,-10.3 1052.4,-6.1 1031.1,15.8" fill="#ee1c24"/>
<rect x="1042.3" y="-0.1" width="21" height="21" fill="none" stroke="#000" stroke-width="2.7"/>
<polygon points="1046.7,7.8 1049.5,5.1 1053.6,10.6 1069.5,-10.3 1074.9,-6.1 1053.6,15.8" fill="#ee1c24"/>
<polygon fill="#000" points="846.6,276.2 863.6,295.2 860.5,297.9 872.6,302.5 869.4,289.9 866.3,292.7 849.4,273.8"/>
<polygon fill="#000" points="1060.8,305.2 1060.8,325.5 1056.6,325.5 1062.6,337.0 1068.6,325.5 1064.4,325.5 1064.4,305.2"/>
<polygon fill="#000" points="1095.2,254.4 1104.5,298.7 1100.5,299.6 1108.7,309.6 1112.2,297.1 1108.1,298.0 1098.8,253.6"/>
<polygon fill="#000" points="1146.0,196.4 1164.7,279.9 1160.6,280.8 1169.0,290.7 1172.3,278.2 1168.3,279.1 1149.6,195.6"/>
<polygon fill="#000" points="1215.0,151.0 1215.0,257.5 1210.8,257.5 1216.8,269.0 1222.8,257.5 1218.6,257.5 1218.6,151.0"/>
<rect x="0" y="0" width="1408" height="1" fill="#b4b4b4"/><rect x="0" y="1" width="1408" height="1" fill="#8e8e8e"/>
<rect x="4" y="4" width="88" height="15" fill="#fff"/>
<text x="7.2" y="15.7" font-family="Liberation Sans, sans-serif" font-size="12" font-weight="bold" fill="#000" textLength="83" lengthAdjust="spacingAndGlyphs">KEN26 ~ Daily</text>
<rect x="94.1" y="5" width="152.7" height="12.8" rx="2" fill="#a9a9a9"/>
<text x="97.2" y="15.9" font-family="Liberation Sans, sans-serif" font-size="12" fill="#f4f4f4" textLength="148" lengthAdjust="spacingAndGlyphs" style="white-space:pre">T:621^2 D  -21^0  -3.27%</text>
<text x="7" y="455.5" font-family="Liberation Sans, sans-serif" font-size="11" font-weight="bold" fill="#000" textLength="50" lengthAdjust="spacingAndGlyphs">SLWSTO</text>
<rect x="62" y="445" width="34.7" height="13" rx="2" fill="#ff0000"/>
<text x="79.3" y="456" text-anchor="middle" font-family="Liberation Sans, sans-serif" font-size="12" fill="#fff">69.45</text>
<rect x="100" y="445" width="35.0" height="13" rx="2" fill="#0000cc"/>
<text x="117.5" y="456" text-anchor="middle" font-family="Liberation Sans, sans-serif" font-size="12" fill="#fff">69.61</text>
<rect x="138.6" y="445" width="17.0" height="13" rx="2" fill="#888888"/>
<text x="147.1" y="456" text-anchor="middle" font-family="Liberation Sans, sans-serif" font-size="12" fill="#fff">75</text>
<rect x="159" y="445" width="17.5" height="13" rx="2" fill="#888888"/>
<text x="167.8" y="456" text-anchor="middle" font-family="Liberation Sans, sans-serif" font-size="12" fill="#fff">25</text>
<rect x="1356" y="2" width="52" height="669" fill="#fff"/>
<path d="M1355.6 2V652.5" stroke="#000" stroke-width="1.3" fill="none"/>
<path d="M1355 442.5H1408" stroke="#000" stroke-width="1.5" fill="none"/>
<text x="1365.4" y="433.3" font-family="Liberation Sans, sans-serif" font-size="12" fill="#1c1c3c" textLength="35" lengthAdjust="spacingAndGlyphs">530^0</text>
<text x="1365.4" y="405.5" font-family="Liberation Sans, sans-serif" font-size="12" fill="#1c1c3c" textLength="35" lengthAdjust="spacingAndGlyphs">540^0</text>
<text x="1365.4" y="377.8" font-family="Liberation Sans, sans-serif" font-size="12" fill="#1c1c3c" textLength="35" lengthAdjust="spacingAndGlyphs">550^0</text>
<text x="1365.4" y="350.0" font-family="Liberation Sans, sans-serif" font-size="12" fill="#1c1c3c" textLength="35" lengthAdjust="spacingAndGlyphs">560^0</text>
<text x="1365.4" y="322.3" font-family="Liberation Sans, sans-serif" font-size="12" fill="#1c1c3c" textLength="35" lengthAdjust="spacingAndGlyphs">570^0</text>
<text x="1365.4" y="294.6" font-family="Liberation Sans, sans-serif" font-size="12" fill="#1c1c3c" textLength="35" lengthAdjust="spacingAndGlyphs">580^0</text>
<text x="1365.4" y="266.8" font-family="Liberation Sans, sans-serif" font-size="12" fill="#1c1c3c" textLength="35" lengthAdjust="spacingAndGlyphs">590^0</text>
<text x="1365.4" y="239.1" font-family="Liberation Sans, sans-serif" font-size="12" fill="#1c1c3c" textLength="35" lengthAdjust="spacingAndGlyphs">600^0</text>
<text x="1365.4" y="211.3" font-family="Liberation Sans, sans-serif" font-size="12" fill="#1c1c3c" textLength="35" lengthAdjust="spacingAndGlyphs">610^0</text>
<text x="1365.4" y="183.6" font-family="Liberation Sans, sans-serif" font-size="12" fill="#1c1c3c" textLength="35" lengthAdjust="spacingAndGlyphs">620^0</text>
<text x="1365.4" y="155.9" font-family="Liberation Sans, sans-serif" font-size="12" fill="#1c1c3c" textLength="35" lengthAdjust="spacingAndGlyphs">630^0</text>
<text x="1365.4" y="128.1" font-family="Liberation Sans, sans-serif" font-size="12" fill="#1c1c3c" textLength="35" lengthAdjust="spacingAndGlyphs">640^0</text>
<text x="1365.4" y="100.4" font-family="Liberation Sans, sans-serif" font-size="12" fill="#1c1c3c" textLength="35" lengthAdjust="spacingAndGlyphs">650^0</text>
<text x="1365.4" y="72.6" font-family="Liberation Sans, sans-serif" font-size="12" fill="#1c1c3c" textLength="35" lengthAdjust="spacingAndGlyphs">660^0</text>
<text x="1365.4" y="44.9" font-family="Liberation Sans, sans-serif" font-size="12" fill="#1c1c3c" textLength="35" lengthAdjust="spacingAndGlyphs">670^0</text>
<text x="1365" y="630.6" font-family="Liberation Sans, sans-serif" font-size="12" fill="#1c1c3c">10</text>
<text x="1365" y="612.0" font-family="Liberation Sans, sans-serif" font-size="12" fill="#1c1c3c">20</text>
<text x="1365" y="593.4" font-family="Liberation Sans, sans-serif" font-size="12" fill="#1c1c3c">30</text>
<text x="1365" y="574.8" font-family="Liberation Sans, sans-serif" font-size="12" fill="#1c1c3c">40</text>
<text x="1365" y="556.2" font-family="Liberation Sans, sans-serif" font-size="12" fill="#1c1c3c">50</text>
<text x="1365" y="537.6" font-family="Liberation Sans, sans-serif" font-size="12" fill="#1c1c3c">60</text>
<text x="1365" y="519.0" font-family="Liberation Sans, sans-serif" font-size="12" fill="#1c1c3c">70</text>
<text x="1365" y="500.4" font-family="Liberation Sans, sans-serif" font-size="12" fill="#1c1c3c">80</text>
<text x="1365" y="481.8" font-family="Liberation Sans, sans-serif" font-size="12" fill="#1c1c3c">90</text>
<path d="M1356 432.7H1361 M1356 404.9H1361 M1356 377.2H1361 M1356 349.4H1361 M1356 321.7H1361 M1356 294.0H1361 M1356 266.2H1361 M1356 238.5H1361 M1356 210.7H1361 M1356 183.0H1361 M1356 155.3H1361 M1356 127.5H1361 M1356 99.8H1361 M1356 72.0H1361 M1356 44.3H1361 M1356 630.6H1361 M1356 612.0H1361 M1356 593.4H1361 M1356 574.8H1361 M1356 556.2H1361 M1356 537.6H1361 M1356 519.0H1361 M1356 500.4H1361 M1356 481.8H1361" stroke="#000" stroke-width="1.6" fill="none"/>
<path d="M1356 179.7L1365 174M1356 207L1365 200.5" stroke="#000" stroke-width="1" fill="none"/>
<path d="M1356 207L1365 200.5" stroke="#22dd11" stroke-width="1.2" fill="none"/>
<rect x="1364.3" y="166.4" width="38.7" height="15.4" rx="2" fill="#000"/>
<text x="1366" y="178.6" font-family="Liberation Sans, sans-serif" font-size="12" fill="#fff" textLength="35" lengthAdjust="spacingAndGlyphs">621^2</text>
<rect x="1364.3" y="193" width="38.7" height="15" rx="2" fill="#22dd11"/>
<text x="1366" y="205" font-family="Liberation Sans, sans-serif" font-size="12" fill="#fff" textLength="35" lengthAdjust="spacingAndGlyphs">611^4</text>
<rect x="0" y="653" width="1408" height="18" fill="#fff"/>
<path d="M0 652.5H1408" stroke="#000" stroke-width="1.6" fill="none"/>
<text x="42.0" y="667.3" font-family="Liberation Sans, sans-serif" font-size="12" fill="#1c1c3c">Mar</text>
<text x="145.0" y="667.3" font-family="Liberation Sans, sans-serif" font-size="12" fill="#1c1c3c">Apr</text>
<text x="248.0" y="667.3" font-family="Liberation Sans, sans-serif" font-size="12" fill="#1c1c3c">May</text>
<text x="352.0" y="667.3" font-family="Liberation Sans, sans-serif" font-size="12" fill="#1c1c3c">Jun</text>
<text x="450.0" y="667.3" font-family="Liberation Sans, sans-serif" font-size="12" fill="#1c1c3c">Jul</text>
<text x="558.0" y="667.3" font-family="Liberation Sans, sans-serif" font-size="12" fill="#1c1c3c">Aug</text>
<text x="661.0" y="667.3" font-family="Liberation Sans, sans-serif" font-size="12" fill="#1c1c3c">Sep</text>
<text x="764.0" y="667.3" font-family="Liberation Sans, sans-serif" font-size="12" fill="#1c1c3c">Oct</text>
<text x="877.0" y="667.3" font-family="Liberation Sans, sans-serif" font-size="12" fill="#1c1c3c">Nov</text>
<text x="970.0" y="667.3" font-family="Liberation Sans, sans-serif" font-size="12" fill="#1c1c3c">Dec</text>
<text x="1078.0" y="667.3" font-family="Liberation Sans, sans-serif" font-size="12" fill="#1c1c3c">2026</text>
<text x="1176.0" y="667.3" font-family="Liberation Sans, sans-serif" font-size="12" fill="#1c1c3c">Feb</text>
<text x="1270.0" y="667.3" font-family="Liberation Sans, sans-serif" font-size="12" fill="#1c1c3c">Mar</text>
<path d="M42.5 653V658 M145.5 653V658 M248.5 653V658 M352.5 653V658 M450.5 653V658 M558.5 653V658 M661.5 653V658 M764.5 653V658 M877.5 653V658 M970.5 653V658 M1078.5 653V658 M1176.5 653V658 M1270.5 653V658" stroke="#000" stroke-width="1.2" fill="none"/>
<rect x="1337.4" y="653.2" width="70.6" height="15.8" fill="#333"/>
<rect x="0" y="671" width="1408" height="19" fill="#f0f0f0"/>
<rect x="2.8" y="673.5" width="14.3" height="18" rx="3" fill="#fbfbfb" stroke="#cfcfcf" stroke-width="1"/>
<rect x="22.0" y="673.5" width="14.9" height="18" rx="3" fill="#fbfbfb" stroke="#cfcfcf" stroke-width="1"/>
<rect x="1372.1" y="673.5" width="14.7" height="18" rx="3" fill="#fbfbfb" stroke="#cfcfcf" stroke-width="1"/>
<rect x="1391.7" y="673.5" width="14.9" height="18" rx="3" fill="#fbfbfb" stroke="#cfcfcf" stroke-width="1"/>
<path d="M7 681L10.5 678V684z M10.5 681L14 678V684z M27.5 681L31 678V684z M1378 678V684L1381.5 681z M1395 678V684L1398.5 681z M1398.5 678V684L1402 681z" fill="#707070"/>
<rect x="39.1" y="678" width="610" height="4.2" rx="2" fill="#000"/>
<rect x="646" y="676.2" width="723.6" height="8.5" rx="3" fill="#23446c"/>
</svg></body></html>
